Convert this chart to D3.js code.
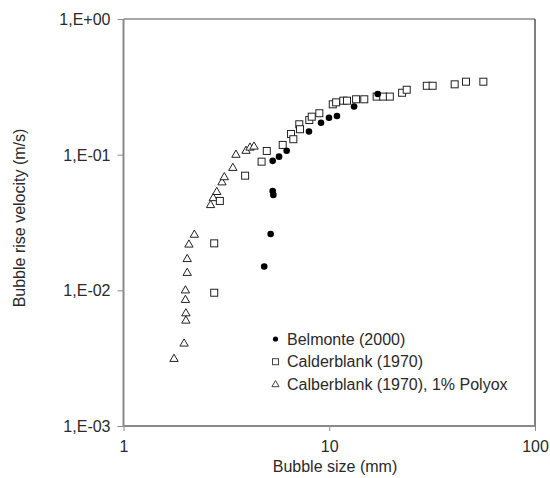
<!DOCTYPE html>
<html><head><meta charset="utf-8">
<script src="https://cdn.jsdelivr.net/npm/d3@7"></script>
<style>body{margin:0;background:#fff}svg{display:block}text{font-family:"Liberation Sans",Arial,sans-serif;fill:#2a2a2a}</style>
</head><body><svg id="c" width="550" height="478"></svg>
<script>
const belmonteX = [4.83,5.19,5.31,5.35,5.31,5.70,6.21,7.97,9.12,9.97,10.9,13.2,17.2];
const belmonteY = [0.015,0.026,0.054,0.0505,0.090,0.0967,0.107,0.148,0.172,0.187,0.193,0.2265,0.280];
const calderX = [2.76,2.76,2.94,3.90,4.69,4.97,5.94,6.52,6.69,7.15,7.21,8.0,8.22,8.95,10.4,10.8,11.7,12.2,13.5,14.8,17.0,18.3,19.7,22.6,23.8,29.8,31.8,40.7,46.2,56.1];
const calderY = [0.0096,0.0222,0.0456,0.070,0.0888,0.1065,0.118,0.142,0.130,0.1675,0.154,0.180,0.1905,0.202,0.235,0.243,0.250,0.250,0.256,0.256,0.268,0.268,0.268,0.286,0.301,0.322,0.322,0.330,0.345,0.345];
const polyoxX = [1.76,1.97,2.01,2.01,2.0,2.0,2.04,2.04,2.08,2.21,2.65,2.73,2.84,3.01,3.09,3.40,3.52,3.94,4.12,4.31];
const polyoxY = [0.00316,0.0041,0.00605,0.00685,0.0086,0.0101,0.0136,0.0172,0.022,0.026,0.043,0.0484,0.0537,0.0632,0.069,0.0808,0.101,0.108,0.114,0.116];
const xTicks = [1,10,100];
const xTickLabels = ["1","10","100"];
const yTicks = [1,0.1,0.01,0.001];
const yTickLabels = ["1,E+00","1,E-01","1,E-02","1,E-03"];
const seriesNames = ["Belmonte (2000)","Calderblank (1970)","Calberblank (1970), 1% Polyox"];

const L=123.5,R=535,T=19,B=426;
const svg=d3.select("#c");
const x=d3.scaleLog().domain([1,100]).range([L,R]);
const y=d3.scaleLog().domain([0.001,1]).range([B,T]);

// frame top/right
svg.append("line").attr("x1",L).attr("x2",R).attr("y1",T).attr("y2",T).attr("stroke","#8a8a8a").attr("stroke-width",1.5);
svg.append("line").attr("x1",R).attr("x2",R).attr("y1",T).attr("y2",B).attr("stroke","#555").attr("stroke-width",1.5);

const xAxis=d3.axisBottom(x).tickValues(xTicks).tickFormat((d,i)=>xTickLabels[i]).tickSize(5).tickPadding(10);
const gx=svg.append("g").attr("transform",`translate(0,${B})`).call(xAxis);
const yAxis=d3.axisLeft(y).tickValues(yTicks).tickFormat((d,i)=>yTickLabels[i]).tickSize(6).tickPadding(7);
const gy=svg.append("g").attr("transform",`translate(${L},0)`).call(yAxis);
[gx,gy].forEach(g=>{
  g.select(".domain").attr("stroke","#8a8a8a").attr("stroke-width",2);
  g.selectAll(".tick line").attr("stroke","#8a8a8a").attr("stroke-width",1);
  g.selectAll(".tick text").style("font-size","16px").attr("fill","#2a2a2a");
});
gx.select(".domain").attr("d",`M${L},0H${R}`);
gy.select(".domain").attr("d",`M0,${T}V${B}`);
gy.selectAll(".tick text").attr("dy","0.35em");

svg.append("text").attr("x",335).attr("y",472).attr("text-anchor","middle").style("font-size","16px").text("Bubble size (mm)");
svg.append("text").attr("transform",`translate(25,218) rotate(-90)`).attr("text-anchor","middle").style("font-size","16px").text("Bubble rise velocity (m/s)");

const tri=d3.symbol().type(d3.symbolTriangle).size(30);
const polyox=polyoxX.map((v,i)=>[v,polyoxY[i]]);
svg.append("g").selectAll("path").data(polyox).join("path")
  .attr("transform",d=>`translate(${x(d[0])},${y(d[1])+0.8})`).attr("d",tri)
  .attr("fill","#fff").attr("stroke","#222").attr("stroke-width",1);
const calder=calderX.map((v,i)=>[v,calderY[i]]);
svg.append("g").selectAll("rect").data(calder).join("rect")
  .attr("x",d=>x(d[0])-3.5).attr("y",d=>y(d[1])-3.5).attr("width",7).attr("height",7)
  .attr("fill","#fff").attr("stroke","#222").attr("stroke-width",1);
const belm=belmonteX.map((v,i)=>[v,belmonteY[i]]);
svg.append("g").selectAll("circle").data(belm).join("circle")
  .attr("cx",d=>x(d[0])).attr("cy",d=>y(d[1])).attr("r",3.3).attr("fill","#000");

// legend
const lg=svg.append("g");
const rows=[339,361.7,384];
lg.append("circle").attr("cx",275.5).attr("cy",rows[0]).attr("r",2.6).attr("fill","#000");
lg.append("rect").attr("x",272.5).attr("y",rows[1]-3).attr("width",6).attr("height",6).attr("fill","#fff").attr("stroke","#444").attr("stroke-width",1);
lg.append("path").attr("transform",`translate(275.5,${rows[2]+0.6})`).attr("d",d3.symbol().type(d3.symbolTriangle).size(22)).attr("fill","#fff").attr("stroke","#444");
seriesNames.forEach((n,i)=>{
  lg.append("text").attr("x",287).attr("y",rows[i]).attr("dy","0.36em").style("font-size","16px").text(n);
});
</script></body></html>
